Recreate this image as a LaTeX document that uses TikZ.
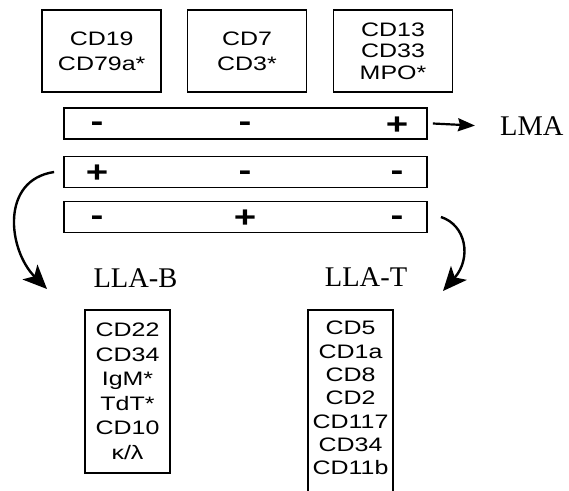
\documentclass[tikz,border=0pt]{standalone}
\usepackage{fontspec}
\setmainfont{Liberation Serif}
\newfontfamily\markerfont{Liberation Sans}[FakeStretch=1.28]
\usetikzlibrary{arrows.meta}

\begin{document}
\begin{tikzpicture}[x=1pt,y=-1pt,
  every node/.style={inner sep=0pt},
  markerbox/.style={draw, line width=1.6pt, minimum width=119pt, minimum height=82pt,
    align=center, font=\markerfont\fontsize{19.5}{25}\selectfont},
  markerlist/.style={align=center, font=\markerfont\fontsize{19.5}{24.5}\selectfont},
  bar/.style={draw, line width=1.8pt, minimum width=363pt, minimum height=31pt},
  possign/.style={font=\markerfont\bfseries\fontsize{30}{30}\selectfont, anchor=base, yshift=-10.5pt},
  negsign/.style={font=\markerfont\bfseries\fontsize{30}{30}\selectfont, anchor=base, yshift=-8pt},
  lineage/.style={font=\fontsize{28.5}{30}\selectfont, anchor=base},
  flow/.style={line width=2.4pt, -{Stealth[length=24pt, width=21pt, inset=6pt]}},
  toAML/.style={line width=2.2pt, -{Stealth[length=17pt, width=13pt, inset=2pt]}}
]
\useasboundingbox (0,0) rectangle (569,490);

% marker panels
\node[markerbox] (b1) at (101.7,51) {CD19\\CD79a*};
\node[markerbox] (b2) at (247,51) {CD7\\CD3*};
\node[markerbox, font=\markerfont\fontsize{19.5}{21.7}\selectfont] (b3) at (393,51) {CD13\\CD33\\MPO*};

% expression patterns
\node[bar] (r1) at (245.5,123.5) {};
\node[bar] (r2) at (245.5,172) {};
\node[bar] (r3) at (245.5,217) {};

\node[negsign] (r1a) at (97,123.5) {-};
\node[negsign] (r1b) at (245,123.5) {-};
\node[possign] (r1c) at (397,123.5) {+};

\node[possign] (r2a) at (97,172) {+};
\node[negsign] (r2b) at (245,172) {-};
\node[negsign] (r2c) at (397,172) {-};

\node[negsign] (r3a) at (97,217) {-};
\node[possign] (r3b) at (245,217) {+};
\node[negsign] (r3c) at (397,217) {-};

% lineage outcomes
\node[lineage, anchor=base west] (lma) at (500,135) {LMA};
\node[lineage] (llab) at (135.5,287) {LLA-B};
\node[lineage] (llat) at (366,286) {LLA-T};

\draw[toAML] ([xshift=5pt]r1.east) -- ([xshift=-25pt]lma.west);

\coordinate (tipB) at (47,289);
\coordinate (tipT) at (443,291);
\draw[flow] ([xshift=-9pt]r2.west) .. controls (0,180) and (8,250) .. (tipB);
\draw[flow] ([xshift=13pt]r3.east) .. controls (466,225) and (472,258) .. (tipT);

% marker lists
\node[draw, line width=1.6pt, minimum width=85pt, minimum height=163pt, markerlist]
  (listB) at (127.5,391.5) {CD22\\CD34\\IgM*\\TdT*\\CD10\\κ/λ};

\node[markerlist, font=\markerfont\fontsize{19.5}{23.3}\selectfont, anchor=north]
  (listT) at (350.5,321) {CD5\\CD1a\\CD8\\CD2\\CD117\\CD34\\CD11b};
\draw[line width=1.6pt] (308,492) -- (308,310) -- (393,310) -- (393,492);

\end{tikzpicture}
\end{document}
